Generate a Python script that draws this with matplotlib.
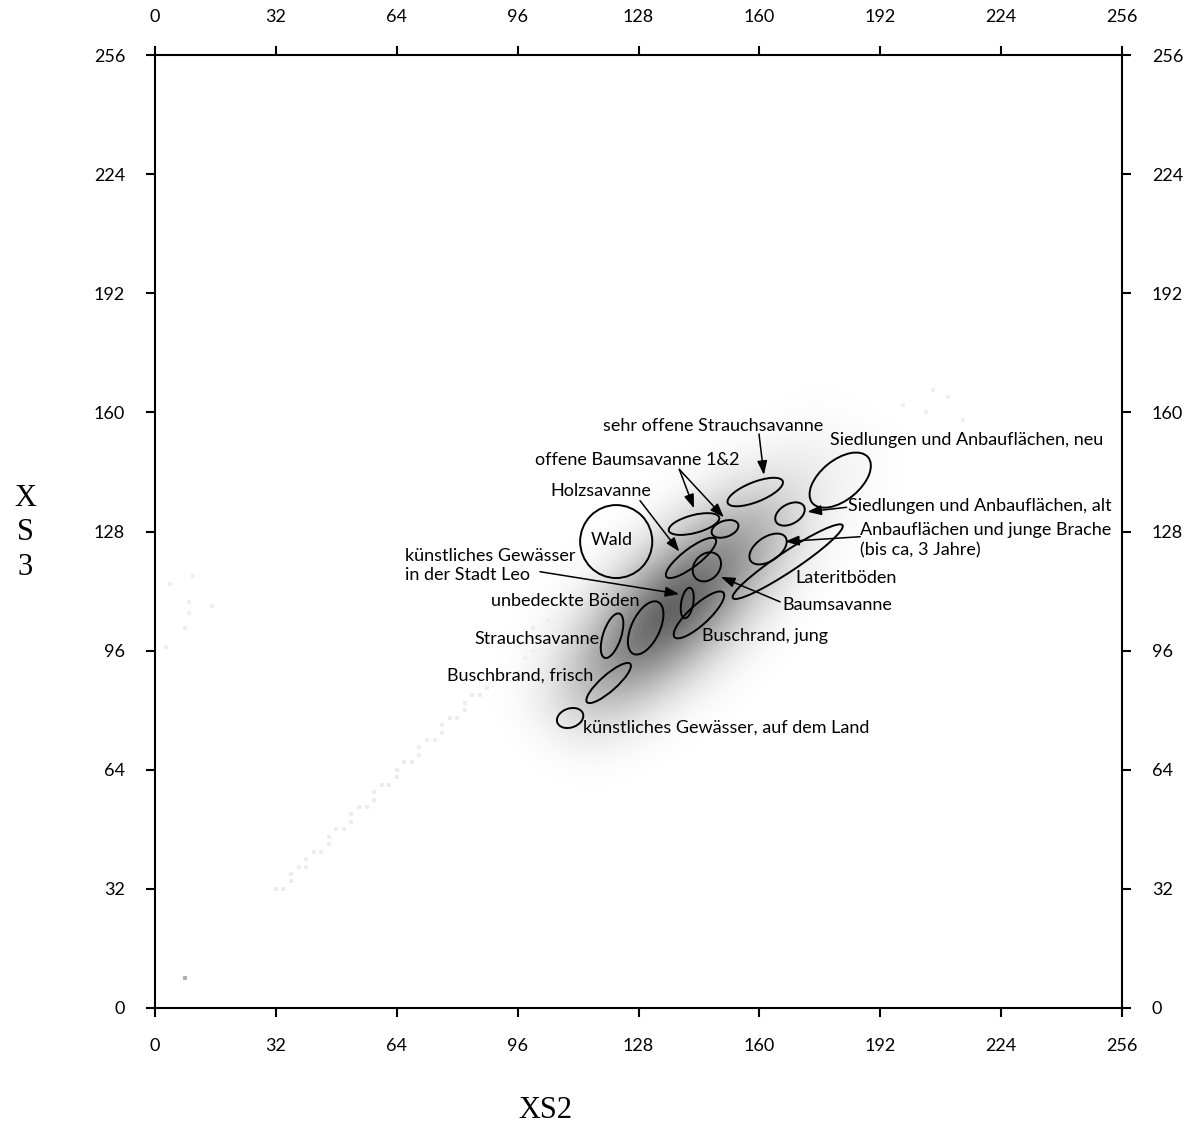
import numpy as np
import matplotlib.pyplot as plt
from matplotlib.patches import Ellipse

plt.rcParams['font.family'] = ['Lato', 'DejaVu Sans']

# scatter density on an 8-unit grid (0 = empty, 1 = dense)
grid_x = [88, 96, 104, 112, 120, 128, 136, 144, 152, 160, 168, 176, 184, 192, 200, 208]
grid_y = [56, 64, 72, 80, 88, 96, 104, 112, 120, 128, 136, 144, 152, 160, 168]
density = [
	[0.00, 0.00, 0.00, 0.00, 0.00, 0.00, 0.00, 0.00, 0.00, 0.00, 0.00, 0.00, 0.00, 0.00, 0.00, 0.00],
	[0.00, 0.00, 0.00, 0.01, 0.01, 0.00, 0.00, 0.00, 0.00, 0.00, 0.00, 0.00, 0.00, 0.00, 0.00, 0.00],
	[0.00, 0.00, 0.04, 0.08, 0.08, 0.04, 0.01, 0.00, 0.00, 0.00, 0.00, 0.00, 0.00, 0.00, 0.00, 0.00],
	[0.00, 0.02, 0.10, 0.22, 0.25, 0.17, 0.07, 0.02, 0.00, 0.00, 0.00, 0.00, 0.00, 0.00, 0.00, 0.00],
	[0.00, 0.02, 0.11, 0.30, 0.46, 0.42, 0.26, 0.11, 0.03, 0.00, 0.00, 0.00, 0.00, 0.00, 0.00, 0.00],
	[0.00, 0.01, 0.07, 0.25, 0.51, 0.69, 0.56, 0.31, 0.12, 0.03, 0.00, 0.00, 0.00, 0.00, 0.00, 0.00],
	[0.00, 0.00, 0.03, 0.14, 0.37, 0.69, 0.83, 0.61, 0.30, 0.10, 0.02, 0.00, 0.00, 0.00, 0.00, 0.00],
	[0.00, 0.00, 0.01, 0.05, 0.19, 0.45, 0.74, 0.77, 0.52, 0.23, 0.07, 0.01, 0.00, 0.00, 0.00, 0.00],
	[0.00, 0.00, 0.00, 0.01, 0.06, 0.20, 0.42, 0.62, 0.60, 0.38, 0.15, 0.04, 0.01, 0.00, 0.00, 0.00],
	[0.00, 0.00, 0.00, 0.00, 0.01, 0.06, 0.17, 0.33, 0.45, 0.40, 0.22, 0.07, 0.02, 0.00, 0.00, 0.00],
	[0.00, 0.00, 0.00, 0.00, 0.00, 0.00, 0.04, 0.12, 0.22, 0.27, 0.20, 0.10, 0.04, 0.01, 0.00, 0.00],
	[0.00, 0.00, 0.00, 0.00, 0.00, 0.00, 0.00, 0.03, 0.07, 0.11, 0.12, 0.09, 0.05, 0.02, 0.00, 0.00],
	[0.00, 0.00, 0.00, 0.00, 0.00, 0.00, 0.00, 0.00, 0.01, 0.03, 0.05, 0.05, 0.04, 0.02, 0.00, 0.00],
	[0.00, 0.00, 0.00, 0.00, 0.00, 0.00, 0.00, 0.00, 0.00, 0.00, 0.01, 0.02, 0.01, 0.00, 0.00, 0.00],
	[0.00, 0.00, 0.00, 0.00, 0.00, 0.00, 0.00, 0.00, 0.00, 0.00, 0.00, 0.00, 0.00, 0.00, 0.00, 0.00],
]

# sparse pixels outside the main cloud
tail_x = [32, 34, 36, 36, 38, 40, 40, 42, 44, 46, 46, 48, 50, 52, 52, 54, 56, 58, 58, 60,
		  62, 64, 64, 66, 68, 70, 70, 72, 74, 76, 76, 78, 80, 82, 82, 84, 86, 88, 90]
tail_y = [32, 32, 34, 36, 38, 38, 40, 42, 42, 44, 46, 48, 48, 50, 52, 54, 54, 56, 58, 60,
		  60, 62, 64, 66, 66, 68, 70, 72, 72, 74, 76, 78, 78, 80, 82, 84, 84, 86, 88]
stray_x = [96, 98, 100, 102, 98, 100, 104, 102, 4, 10, 9, 9, 15, 8, 3, 198, 204, 210, 214, 206]
stray_y = [90, 94, 96, 100, 98, 102, 104, 92, 114, 116, 109, 106, 108, 102, 97, 162, 160, 164, 158, 166]
dark_x = [8]
dark_y = [8]

# class ellipses: centre, width, height, angle (deg)
ell_x = [122.1, 158.9, 181.4, 168.1, 162.3, 167.5, 142.7, 150.9, 141.9, 146.1, 140.9, 144.0, 121.0, 129.9, 120.1, 109.9]
ell_y = [125.3, 138.6, 141.8, 132.7, 123.3, 119.9, 130.0, 128.7, 120.9, 118.5, 108.8, 105.6, 100.0, 102.1, 87.3, 77.9]
ell_w = [19.1, 15.7, 19.2, 8.5, 11.2, 35.0, 13.8, 7.4, 16.5, 8.5, 8.3, 17.6, 12.5, 15.4, 15.4, 7.2]
ell_h = [19.6, 5.3, 10.7, 5.3, 6.4, 5.3, 4.8, 4.3, 4.8, 6.7, 3.2, 5.3, 4.8, 7.5, 4.3, 5.1]
ell_angle = [0, 22, 40, 30, 35, 34, 15, 20, 38, 50, 80, 43, 72, 65, 42, 20]

labels = [
	('sehr offene Strauchsavanne', 118.6, 156.3),
	('Siedlungen und Anbauflächen, neu', 178.7, 152.6),
	('offene Baumsavanne 1&2', 100.6, 147.2),
	('Holzsavanne', 104.6, 138.9),
	('Siedlungen und Anbauflächen, alt', 183.5, 134.8),
	('Anbauflächen und junge Brache', 186.7, 128.4),
	('(bis ca, 3 Jahre)', 186.7, 123.0),
	('künstliches Gewässer', 66.2, 121.4),
	('in der Stadt Leo', 66.2, 116.3),
	('Lateritböden', 169.4, 115.5),
	('unbedeckte Böden', 89.0, 109.3),
	('Baumsavanne', 166.0, 108.2),
	('Strauchsavanne', 84.5, 99.1),
	('Buschrand, jung', 144.8, 99.9),
	('Buschbrand, frisch', 77.3, 89.2),
	('künstliches Gewässer, auf dem Land', 113.3, 75.2),
]

# arrows: (start, tip)
arrows = [
	((159.9, 154.2), (161.2, 143.2)),
	((138.8, 144.7), (142.7, 134.2)),
	((138.8, 144.7), (150.6, 131.8)),
	((128.4, 136.3), (138.8, 122.6)),
	((183.1, 134.5), (172.7, 133.3)),
	((186.7, 126.6), (166.8, 125.3)),
	((101.9, 117.2), (138.8, 111.2)),
	((165.5, 109.1), (149.8, 115.8)),
]

fig = plt.figure(figsize=(12, 11.3), dpi=100)
ax = fig.add_axes([155/1200., 1-1008/1130., 967/1200., 953/1130.])

dx = (grid_x[1]-grid_x[0])/2.
dy = (grid_y[1]-grid_y[0])/2.
ax.imshow(np.array(density), origin='lower', cmap='gray_r', vmin=0, vmax=1.2,
		  extent=[grid_x[0]-dx, grid_x[-1]+dx, grid_y[0]-dy, grid_y[-1]+dy],
		  interpolation='bicubic', aspect='auto', zorder=1)
ax.scatter(tail_x, tail_y, marker='s', s=7, color='#ededed', linewidths=0, zorder=1)
ax.scatter(stray_x, stray_y, marker='s', s=7, color='#efefef', linewidths=0, zorder=1)
ax.scatter(dark_x, dark_y, marker='s', s=8, color='#b0b0b0', linewidths=0, zorder=1)

for i in range(len(ell_x)):
	ax.add_patch(Ellipse((ell_x[i], ell_y[i]), ell_w[i], ell_h[i], angle=ell_angle[i],
						 fill=False, ec='black', lw=1.4, zorder=3))

ax.text(121.0, 125.7, 'Wald', ha='center', va='center', fontsize=13, zorder=4)
for txt, x, y in labels:
	ax.text(x, y, txt, ha='left', va='center', fontsize=13, zorder=4)

for start, tip in arrows:
	ax.annotate('', xy=tip, xytext=start,
				arrowprops=dict(arrowstyle='-|>,head_length=0.7,head_width=0.25',
								mutation_scale=12, lw=1.1, color='black',
								shrinkA=0, shrinkB=0), zorder=4)

ax.set_xlim(0, 256)
ax.set_ylim(0, 256)
ax.set_xticks(range(0, 257, 32))
ax.set_yticks(range(0, 257, 32))
ax.tick_params(direction='out', length=6.5, width=1.5, pad=15, labelsize=13,
			   top=True, right=True, labeltop=True, labelright=True)
for sp in ax.spines.values():
	sp.set_linewidth(1.5)

fig.text(545/1200., 1-1110/1130., 'XS2', family='Liberation Serif', fontsize=22,
		 ha='center', va='center')
fig.text(25/1200., 1-533/1130., 'X\nS\n3', family='Liberation Serif', fontsize=22,
		 ha='center', va='center', linespacing=1.25)

plt.savefig('out.png', dpi=100)
